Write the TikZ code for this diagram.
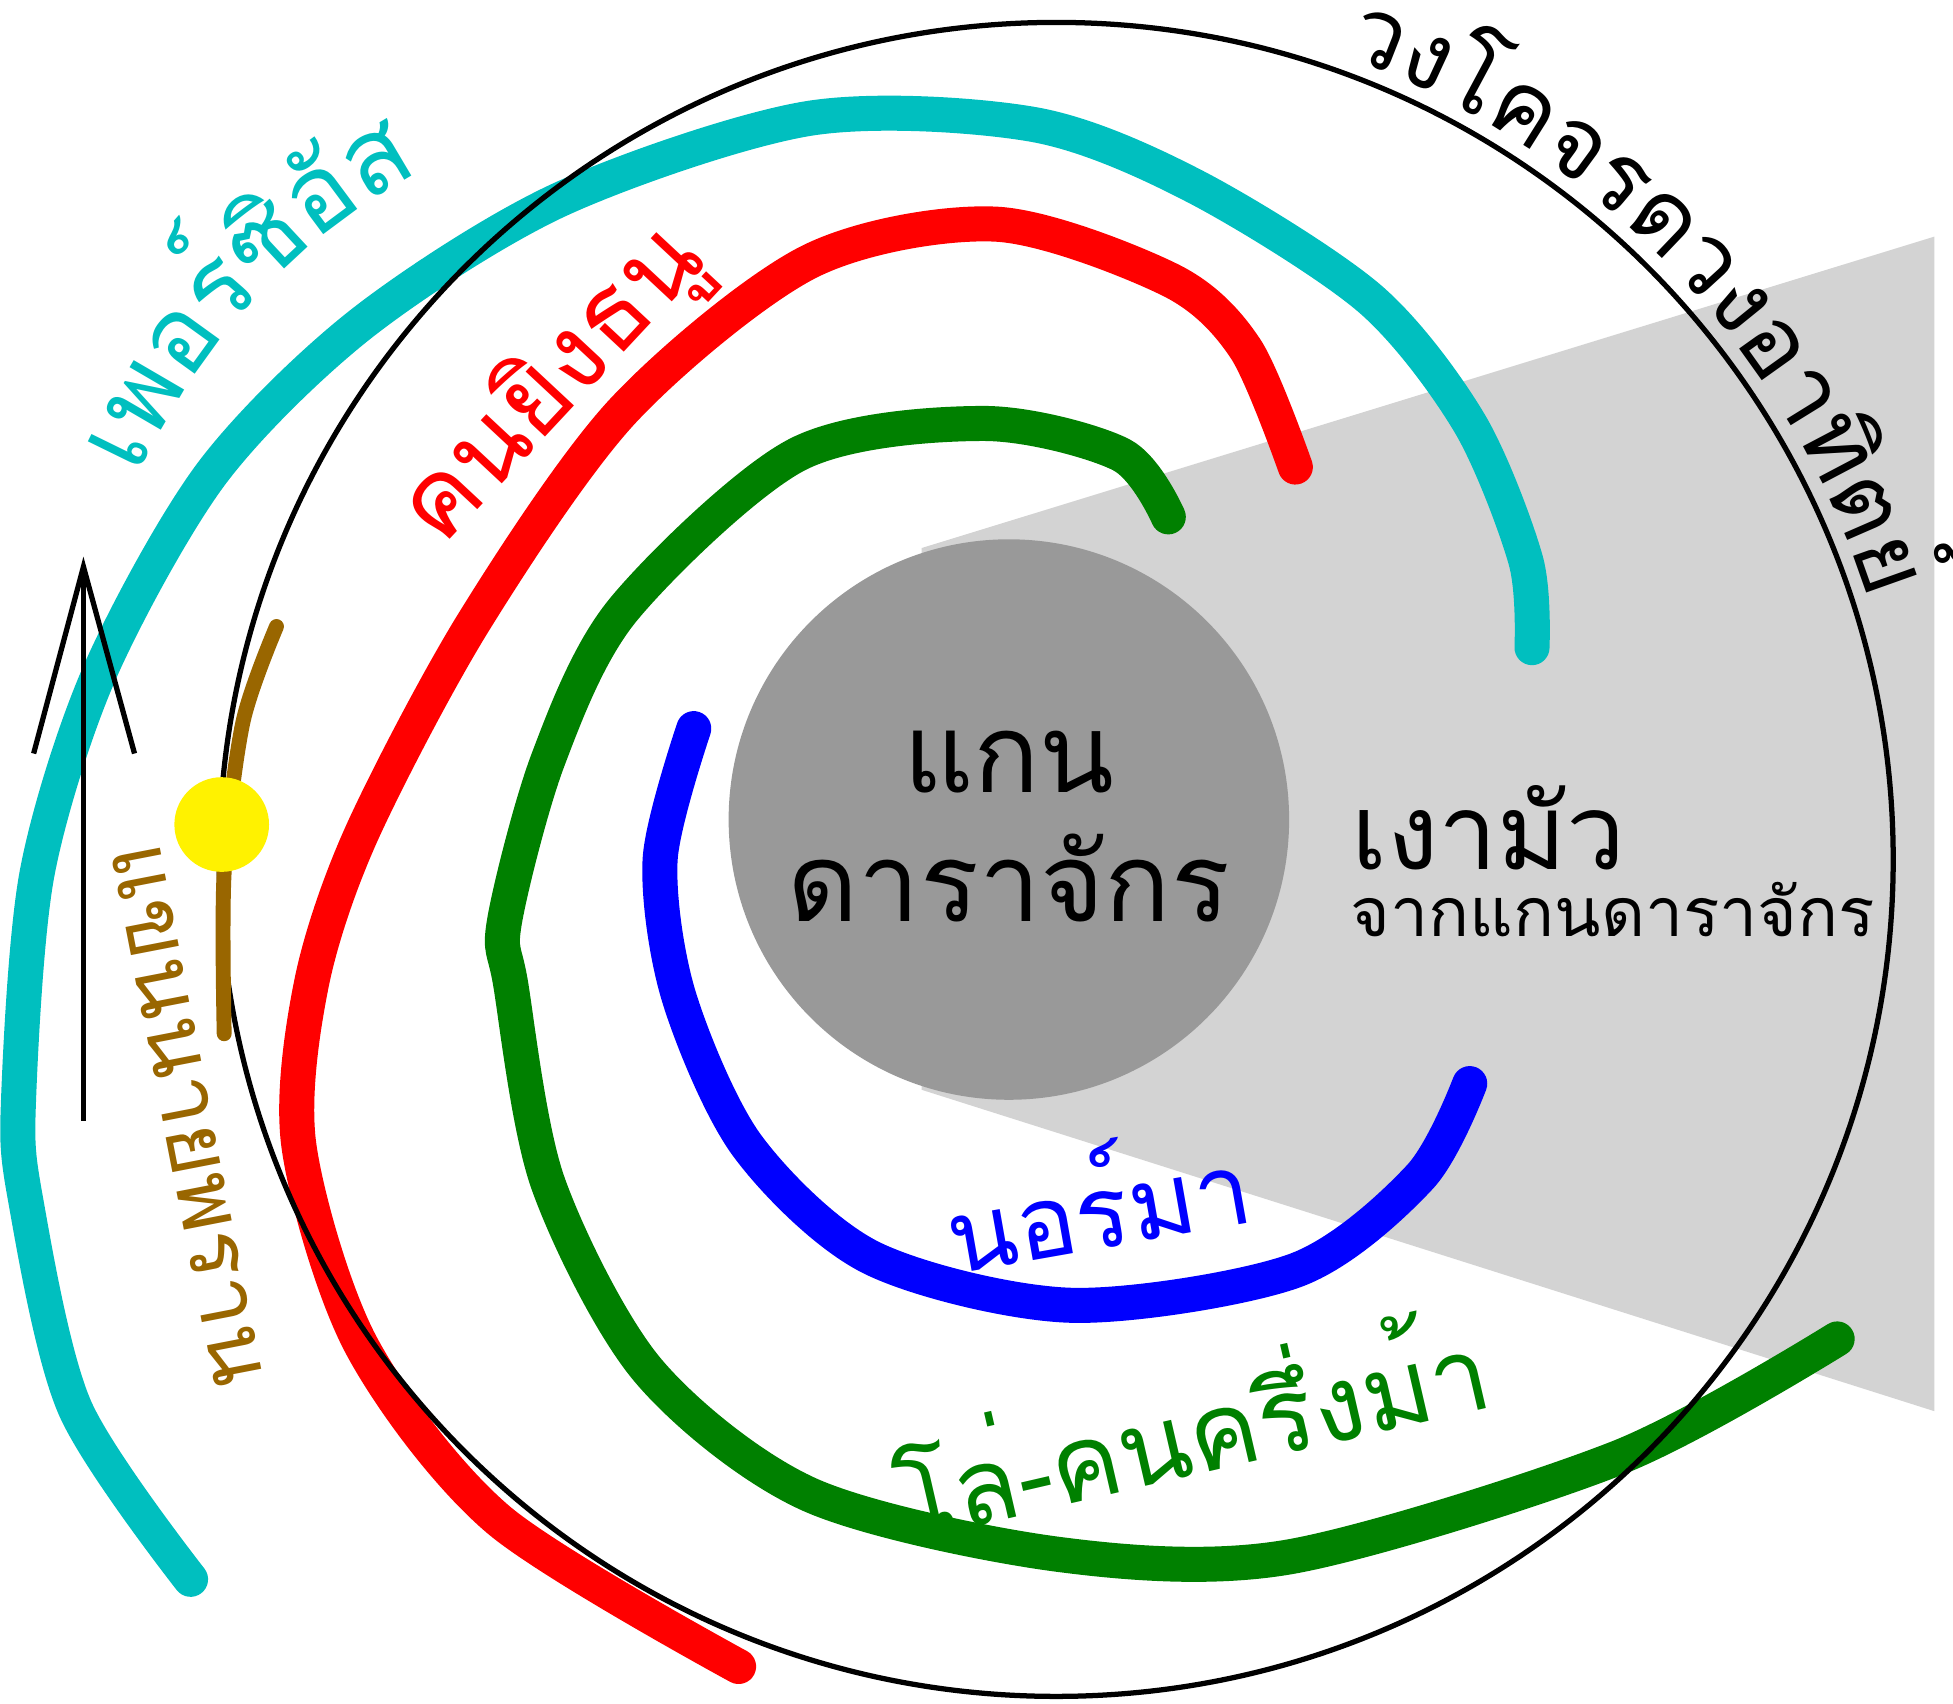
\documentclass[tikz,border=0pt]{standalone}
\usepackage{fontspec}
\IfFontExistsTF{Loma.otf}{\setmainfont{Loma.otf}}{%
  \IfFontExistsTF{Garuda.otf}{\setmainfont{Garuda.otf}}{%
    \IfFontExistsTF{Noto Sans Thai}{\setmainfont{Noto Sans Thai}}{\setmainfont{DejaVu Sans}}}}
\usepackage{xcolor}
\definecolor{Cyan}{RGB}{0,191,191}
\definecolor{Red}{RGB}{255,0,0}
\definecolor{Green}{RGB}{0,128,0}
\definecolor{Blue}{RGB}{0,0,255}
\definecolor{Brown}{RGB}{153,102,0}
\definecolor{Shade}{RGB}{211,211,211}
\definecolor{Core}{RGB}{153,153,153}
\usetikzlibrary{decorations.text}
\newcommand{\bigfont}{\fontsize{25}{27}\selectfont}
\newcommand{\armfont}{\fontsize{24}{26}\selectfont}
\tikzset{
	arm/.style={line width=8pt, line cap=round, line join=round},
}

\begin{document}
\begin{tikzpicture}[x=0.01cm, y=0.01cm]
		\useasboundingbox (0,0) rectangle (1568,-1368);
		
		% Shadow
		\fill[Shade] (740,-440) -- (1553,-190) -- (1553,-1133) -- (740,-875) -- cycle;
		
		% Core
		\fill[Core] (810,-658) circle [radius=225];
		
		% Arms
		\draw[arm, draw=Cyan] plot[smooth] coordinates {(153,-1268) (60,-1130) (20,-960) (15,-880) (30,-700) (80,-540) (170,-380) (290,-260) (450,-160) (650,-95) (830,-100) (960,-150) (1100,-240) (1180,-340) (1225,-450) (1230,-520)};
		\draw[arm, draw=Red] plot[smooth] coordinates {(593,-1338) (400,-1220) (290,-1080) (240,-920) (250,-790) (290,-670) (380,-500) (500,-330) (650,-210) (800,-180) (940,-225) (1000,-280) (1040,-375)};
		\draw[arm, draw=Green] plot[smooth] coordinates {(938,-415) (900,-365) (790,-340) (640,-365) (500,-490) (440,-610) (405,-740) (410,-790) (440,-950) (520,-1100) (650,-1200) (850,-1248) (1035,-1250) (1300,-1170) (1475,-1075)};
		\draw[arm, draw=Blue] plot[smooth] coordinates {(557,-585) (530,-690) (545,-800) (600,-920) (700,-1010) (860,-1048) (1040,-1020) (1140,-945) (1180,-870)};
		
		% Solar orbit
		\draw[line width=1.2pt] (848,-690) circle [radius=672];
		
		% Local arm and Sun
		\draw[line width=3.4pt, line cap=round, draw=Brown] plot[smooth] coordinates {(222,-503) (195,-580) (180,-700) (180,-830)};
		\fill[yellow] (178,-662) circle [radius=38];
		
		% Direction
		\coordinate (tail) at (67,-900);
		\coordinate (tip) at (67,-455);
		\coordinate (barbL) at (27,-605);
		\coordinate (barbR) at (108,-605);
		\draw[line width=1.2pt] (tail) -- (tip);
		\draw[line width=1.2pt] (barbL) -- (tip) -- (barbR);
		
		% Names
		\node[font=\bigfont] (core1) at (810,-612) {แกน};
		\node[font=\bigfont] (core2) at (810,-705) {ดาราจักร};
		\node[font=\fontsize{24}{26}\selectfont] (umbra) at (1195,-665) {เงามัว};
		\node[font=\fontsize{15.5}{17}\selectfont] (umbra2) at (1295,-730) {จากแกนดาราจักร};
		\node[font=\fontsize{23}{25}\selectfont, text=Blue, rotate=10] (norma) at (880,-960) {นอร์มา};
		\node[font=\armfont, text=Green, rotate=13] (scutum) at (955,-1140) {โล่-คนครึ่งม้า};
		\node[font=\armfont, text=Red, rotate=47] (sagitt) at (445,-310) {คนยิงธนู};
		\node[font=\fontsize{20}{22}\selectfont, text=Brown, rotate=-79] (orion) at (150,-895) {แขนนายพราน};
		
		% Curved names
		\path[decorate, decoration={text along path, text align=center, text color=Cyan,
			text={|\armfont|เพอ{ร์}{ซิ}{อั}ส}}] (95,-420) .. controls (145,-290) and (235,-180) .. (375,-120);
		\path[decorate, decoration={text along path, text align=center,
			text={|\fontsize{22}{24}\selectfont|วงโคจรดวงอา{ทิ}ต{ย์}}}] (848,-690) ++(74:685) arc [start angle=74, end angle=14, radius=685];
		
	\end{tikzpicture}
\end{document}
